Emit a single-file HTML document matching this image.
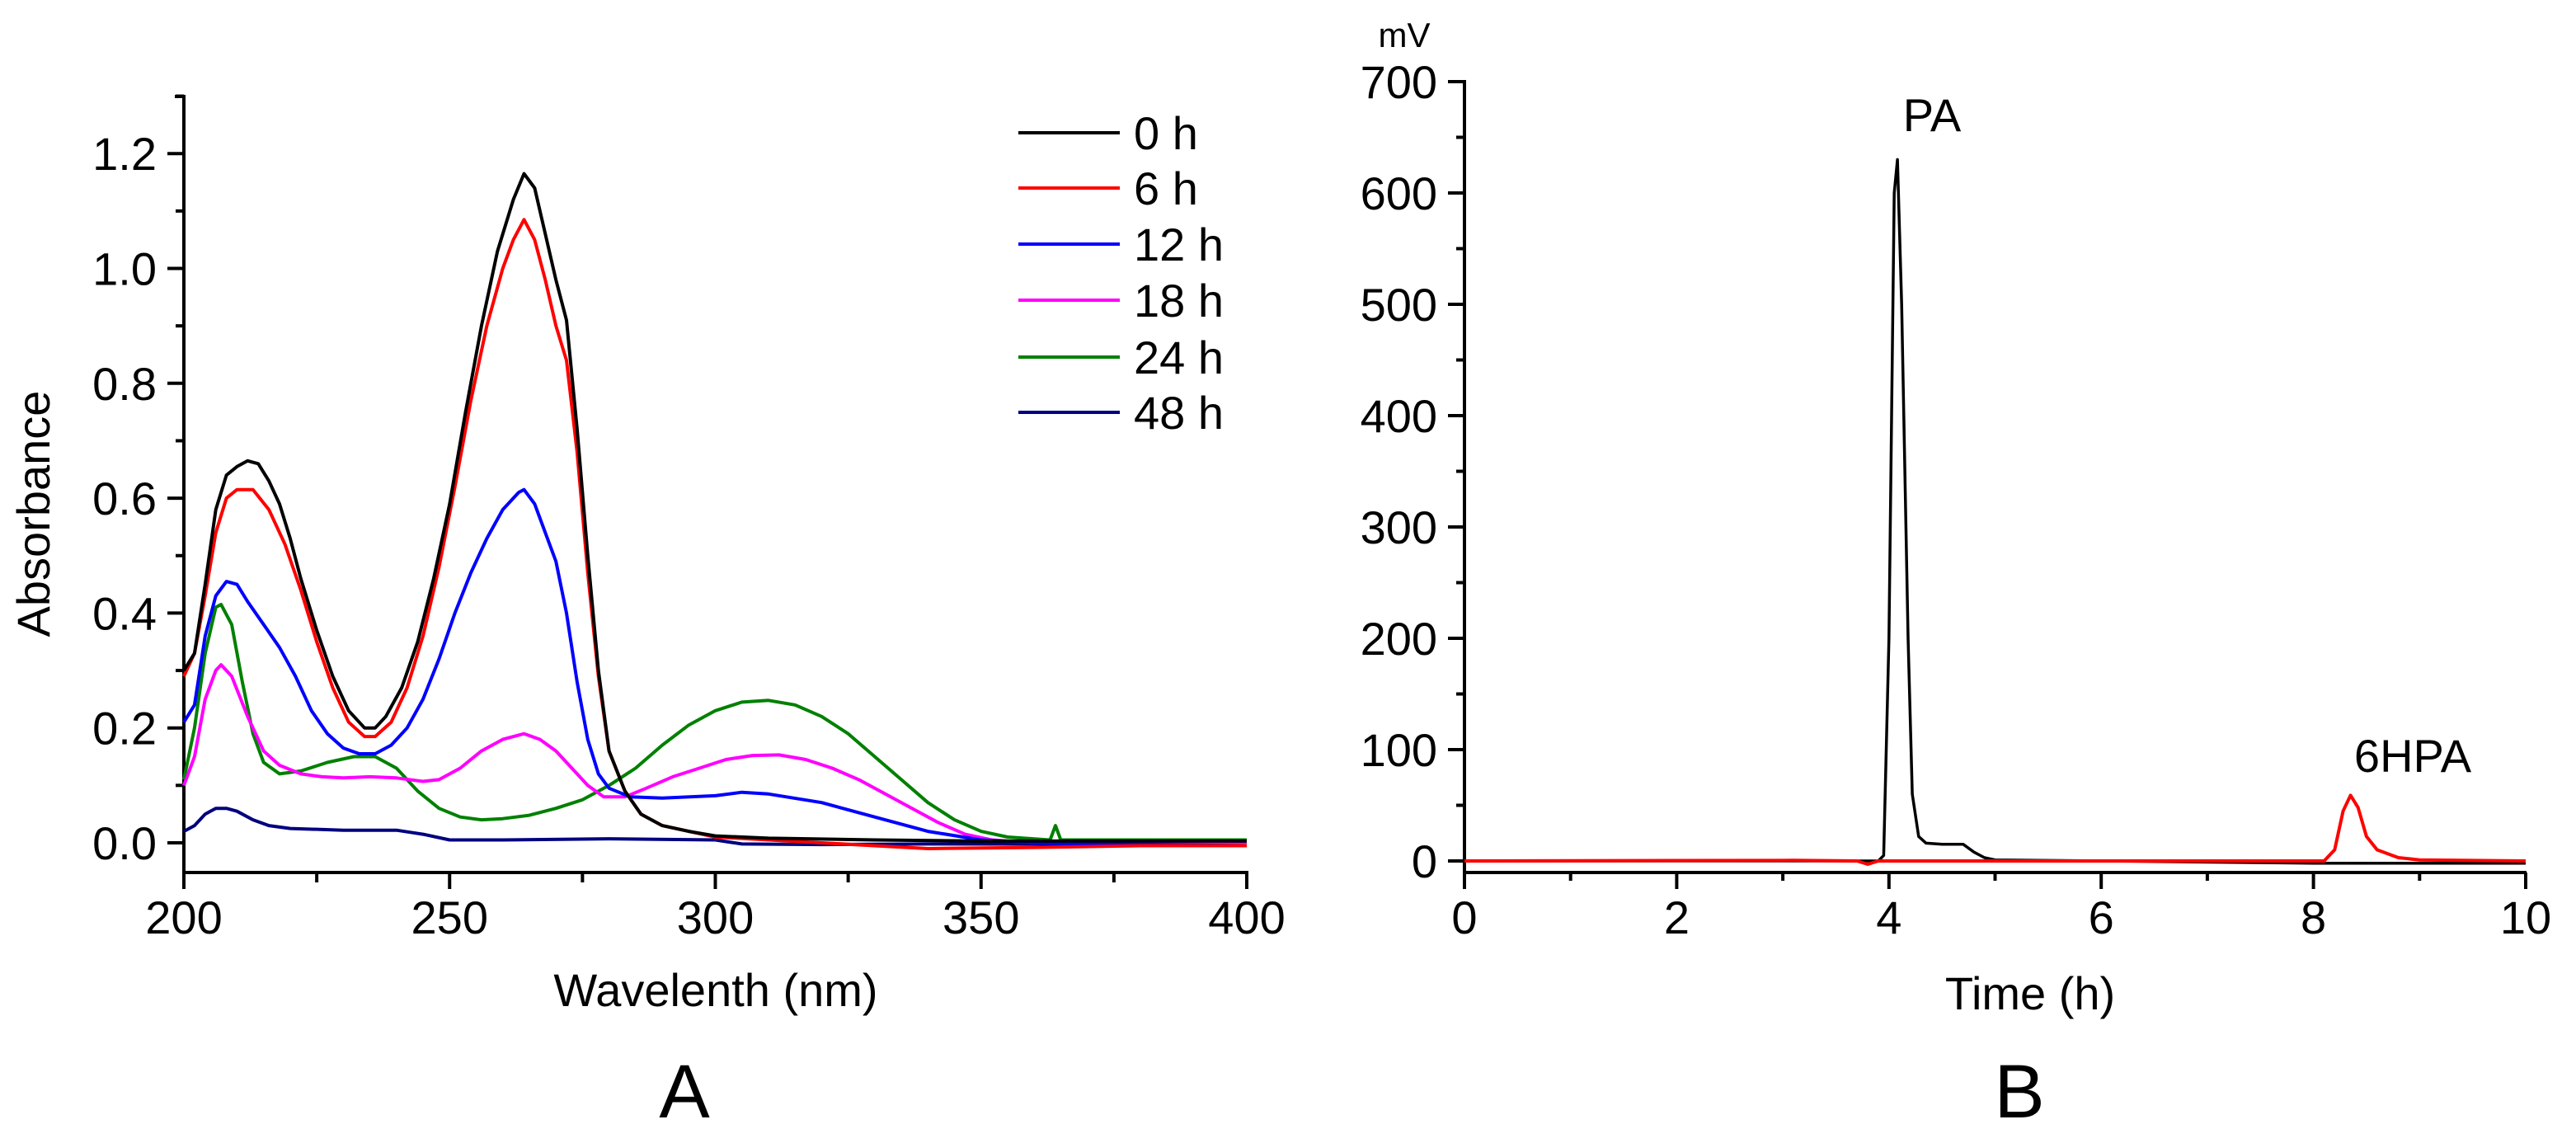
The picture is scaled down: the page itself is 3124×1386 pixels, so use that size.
<!DOCTYPE html>
<html><head><meta charset="utf-8"><style>
html,body{margin:0;padding:0;background:#fff;}
svg{display:block;font-family:"Liberation Sans",Arial,sans-serif;}
</style></head><body>
<svg id="fig" width="3124" height="1386" viewBox="0 0 3124 1386" xmlns="http://www.w3.org/2000/svg">
<g id="panelA"></g>
<g id="panelB"></g>
</svg>
<script>
// Panel A data
const seriesNames=["0 h","6 h","12 h","18 h","24 h","48 h"];
const seriesColors=["#000000","#ff0000","#0000ff","#ff00ff","#008000","#000080"];
const s0x=[200,202,204,206,208,210,212,214,216,218,220,222,225,228,231,234,236,238,241,244,247,250,253,256,259,262,264,266,268,270,272,274,276,278,280,283,286,290,295,300,310,330,350,400];
const s0y=[0.30,0.33,0.45,0.58,0.64,0.655,0.665,0.66,0.63,0.59,0.53,0.46,0.37,0.29,0.23,0.20,0.20,0.22,0.27,0.35,0.46,0.59,0.75,0.90,1.03,1.12,1.165,1.14,1.06,0.98,0.91,0.72,0.50,0.30,0.16,0.09,0.05,0.03,0.02,0.012,0.008,0.005,0.003,0.003];
const s1x=[200,202,204,206,208,210,213,216,219,222,225,228,231,234,236,239,242,245,248,251,254,257,260,262,264,266,268,270,272,274,276,278,280,283,286,290,300,320,340,360,380,400];
const s1y=[0.29,0.33,0.43,0.54,0.60,0.615,0.615,0.58,0.52,0.44,0.35,0.27,0.21,0.185,0.185,0.21,0.27,0.36,0.48,0.62,0.77,0.90,1.00,1.05,1.085,1.05,0.98,0.90,0.84,0.68,0.47,0.29,0.16,0.09,0.05,0.03,0.01,0.0,-0.01,-0.008,-0.005,-0.005];
const s2x=[200,202,204,206,208,210,212,215,218,221,224,227,230,233,236,239,242,245,248,251,254,257,260,263,264,266,268,270,272,274,276,278,280,284,290,300,305,310,320,330,340,350,360,400];
const s2y=[0.21,0.24,0.36,0.43,0.455,0.45,0.42,0.38,0.34,0.29,0.23,0.19,0.165,0.155,0.155,0.17,0.20,0.25,0.32,0.40,0.47,0.53,0.58,0.61,0.615,0.59,0.54,0.49,0.40,0.28,0.18,0.12,0.095,0.08,0.078,0.082,0.088,0.085,0.07,0.045,0.02,0.005,0.0,-0.005];
const s3x=[200,202,204,206,207,209,212,215,218,222,226,230,235,240,245,248,252,256,260,264,267,270,273,276,279,283,287,292,297,302,307,312,317,322,327,332,337,342,347,352,360,400];
const s3y=[0.10,0.15,0.25,0.30,0.31,0.29,0.22,0.16,0.135,0.12,0.115,0.113,0.115,0.113,0.107,0.11,0.13,0.16,0.18,0.19,0.18,0.16,0.13,0.10,0.08,0.08,0.095,0.115,0.13,0.145,0.152,0.153,0.145,0.13,0.11,0.085,0.06,0.035,0.015,0.005,0.0,0.0];
const s4x=[200,202,204,206,207,209,211,213,215,218,222,227,232,236,240,244,248,252,256,260,265,270,275,280,285,290,295,300,305,310,315,320,325,330,335,340,345,350,355,363,364,365,400];
const s4y=[0.11,0.20,0.33,0.41,0.415,0.38,0.28,0.19,0.14,0.12,0.125,0.14,0.15,0.15,0.13,0.09,0.06,0.045,0.04,0.042,0.048,0.06,0.075,0.10,0.13,0.17,0.205,0.23,0.245,0.248,0.24,0.22,0.19,0.15,0.11,0.07,0.04,0.02,0.01,0.005,0.03,0.005,0.005];
const s5x=[200,202,204,206,208,210,213,216,220,230,240,245,250,260,280,300,305,320,340,400];
const s5y=[0.02,0.03,0.05,0.06,0.06,0.055,0.04,0.03,0.025,0.022,0.022,0.015,0.005,0.005,0.007,0.005,-0.002,-0.003,-0.002,-0.003];
const aXTicks=[200,250,300,350,400];
const aYTicks=[0.0,0.2,0.4,0.6,0.8,1.0,1.2];
const aYTickLabels=["0.0","0.2","0.4","0.6","0.8","1.0","1.2"];

// Panel B data
const bBlackX=[0,1,2,3,3.9,3.95,4.0,4.05,4.08,4.12,4.18,4.22,4.28,4.35,4.5,4.7,4.8,4.9,5.0,6,8,10];
const bBlackY=[0,0,0,0,0,5,200,600,630,500,200,60,22,16,15,15,8,3,1,0,-2,-2];
const bRedX=[0,3.1,3.7,3.8,3.9,5,8.1,8.2,8.28,8.35,8.42,8.5,8.6,8.8,9,10];
const bRedY=[0,0.5,0,-3,0,0,0,10,45,59,48,22,10,3,1,0];
const bXTicks=[0,2,4,6,8,10];
const bYTicks=[0,100,200,300,400,500,600,700];

const NS="http://www.w3.org/2000/svg";
function mk(parent,tag,attrs,txt){const e=document.createElementNS(NS,tag);for(const k in attrs)e.setAttribute(k,attrs[k]);if(txt!==undefined)e.textContent=txt;parent.appendChild(e);return e;}

// Panel A axes
const A=document.getElementById('panelA');
const ax=v=>223+(v-200)*6.445;
const ay=v=>1022-v*696.5;
let e;
e=mk(A,'line',{x1:223,y1:117,x2:223,y2:1058,stroke:'#000','stroke-width':4});

e=mk(A,'line',{x1:221,y1:1058,x2:1514,y2:1058,stroke:'#000','stroke-width':4});

mk(A,'line',{x1:212,y1:117,x2:225,y2:117,stroke:'#000','stroke-width':4});
for(let v=200;v<=400;v+=25){const big=(v%50===0);
 e=mk(A,'line',{x1:ax(v),y1:1058,x2:ax(v),y2:1058+(big?20:12),stroke:'#000','stroke-width':4});
 }
aXTicks.forEach(v=>{e=mk(A,'text',{x:ax(v),y:1132,'font-size':56,'text-anchor':'middle'},String(v));
 });
for(let v=0;v<=1.3001;v+=0.1){const big=Math.round(v*10)%2===0;
 e=mk(A,'line',{x1:223-(big?20:10),y1:ay(v),x2:223,y2:ay(v),stroke:'#000','stroke-width':4});
 }
aYTicks.forEach((v,i)=>{e=mk(A,'text',{x:190,y:ay(v)+20,'font-size':56,'text-anchor':'end'},aYTickLabels[i]);
 });
e=mk(A,'text',{x:868,y:1220,'font-size':56,'text-anchor':'middle'},'Wavelenth (nm)');

e=mk(A,'text',{x:0,y:0,'font-size':56,'text-anchor':'middle',transform:'translate(60,623) rotate(-90)'},'Absorbance');

e=mk(A,'text',{x:830,y:1355,'font-size':92,'text-anchor':'middle'},'A');


const aX=[s0x,s1x,s2x,s3x,s4x,s5x], aY=[s0y,s1y,s2y,s3y,s4y,s5y];
for(let i=aX.length-1;i>=0;i--){
 const d=aX[i].map((x,j)=>(j?'L':'M')+ax(x).toFixed(1)+' '+ay(aY[i][j]).toFixed(1)).join(' ');
 e=mk(A,'path',{d:d,fill:'none',stroke:seriesColors[i],'stroke-width':4,'stroke-linejoin':'round'});
 
}
const legY=[161,228,296,364,433,500];
seriesNames.forEach((n,i)=>{
 const g=mk(A,'g',{});
 
 mk(g,'line',{x1:1235,y1:legY[i],x2:1358,y2:legY[i],stroke:seriesColors[i],'stroke-width':4});
 mk(g,'text',{x:1375,y:legY[i]+20,'font-size':56},n);
});

// Panel B
const B=document.getElementById('panelB');
const bx=v=>1776+v*128.7;
const by=v=>1044-v*1.35;
e=mk(B,'line',{x1:1776,y1:97,x2:1776,y2:1076,stroke:'#000','stroke-width':4});

e=mk(B,'line',{x1:1774,y1:1058,x2:3064,y2:1058,stroke:'#000','stroke-width':4});

mk(B,'line',{x1:3063,y1:1058,x2:3063,y2:1077,stroke:'#000','stroke-width':4});
for(let v=0;v<=10;v+=1){const big=v%2===0;
 e=mk(B,'line',{x1:bx(v),y1:1058,x2:bx(v),y2:1058+(big?20:10),stroke:'#000','stroke-width':4});
 }
bXTicks.forEach(v=>{e=mk(B,'text',{x:bx(v),y:1132,'font-size':56,'text-anchor':'middle'},String(v));
 });
for(let v=0;v<=700;v+=50){const big=v%100===0;
 e=mk(B,'line',{x1:1776-(big?20:10),y1:by(v),x2:1776,y2:by(v),stroke:'#000','stroke-width':4});
 }
bYTicks.forEach(v=>{e=mk(B,'text',{x:1743,y:by(v)+20,'font-size':56,'text-anchor':'end'},String(v));
 });
e=mk(B,'text',{x:1703,y:57,'font-size':42,'text-anchor':'middle'},'mV');

e=mk(B,'text',{x:2462,y:1224,'font-size':56,'text-anchor':'middle'},'Time (h)');

e=mk(B,'text',{x:2449,y:1355,'font-size':92,'text-anchor':'middle'},'B');

e=mk(B,'path',{d:bBlackX.map((x,j)=>(j?'L':'M')+bx(x).toFixed(1)+' '+by(bBlackY[j]).toFixed(1)).join(' '),fill:'none',stroke:'#000','stroke-width':3.5,'stroke-linejoin':'round'});

e=mk(B,'path',{d:bRedX.map((x,j)=>(j?'L':'M')+bx(x).toFixed(1)+' '+by(bRedY[j]).toFixed(1)).join(' '),fill:'none',stroke:'#ff0000','stroke-width':4,'stroke-linejoin':'round'});

e=mk(B,'text',{x:2343,y:159,'font-size':56,'text-anchor':'middle'},'PA');

e=mk(B,'text',{x:2926,y:936,'font-size':56,'text-anchor':'middle'},'6HPA');

</script>
</body></html>
